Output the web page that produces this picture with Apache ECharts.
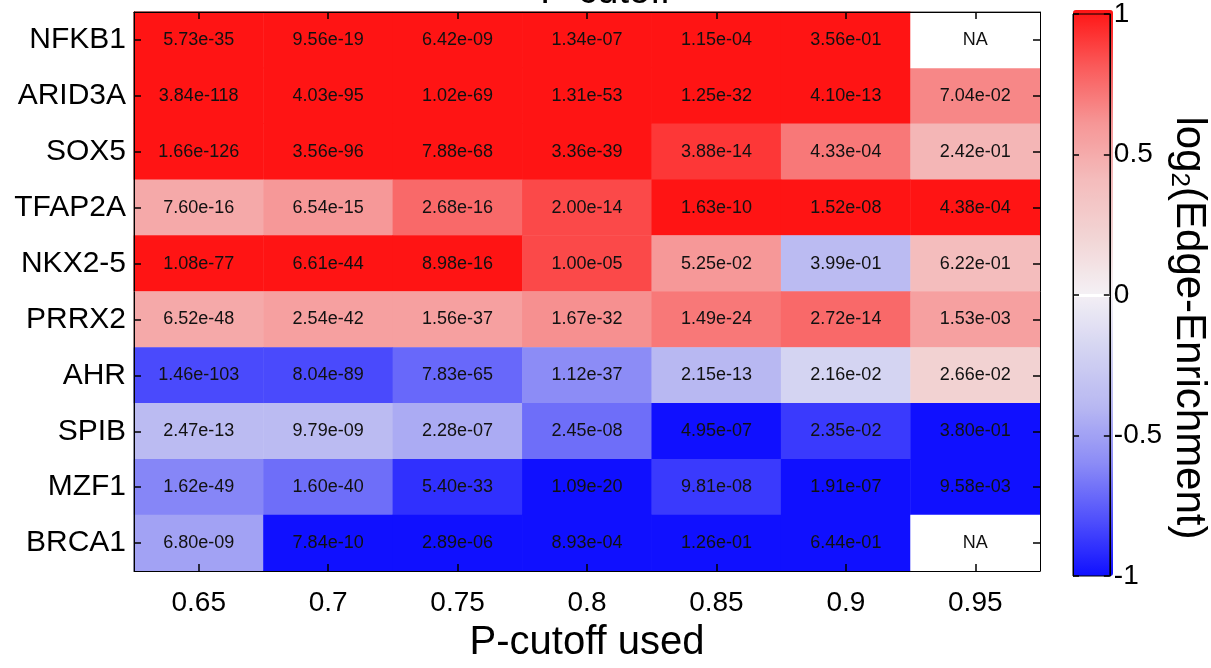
<!DOCTYPE html>
<html>
<head>
<meta charset="utf-8">
<script src="https://cdn.jsdelivr.net/npm/echarts@6/dist/echarts.min.js"></script>
<style>
html,body{margin:0;padding:0;background:#fff;}
#chart{width:1211px;height:668px;}
</style>
</head>
<body>
<div id="chart"></div>
<script>
const cutoffs = ['0.65','0.7','0.75','0.8','0.85','0.9','0.95'];
const factors = ['NFKB1','ARID3A','SOX5','TFAP2A','NKX2-5','PRRX2','AHR','SPIB','MZF1','BRCA1'];
const colorbarTicks = [-1, -0.5, 0, 0.5, 1];

// p-value text shown in each cell (row = factor, column = cutoff)
const pLabels = [
  ['5.73e-35','9.56e-19','6.42e-09','1.34e-07','1.15e-04','3.56e-01','NA'],
  ['3.84e-118','4.03e-95','1.02e-69','1.31e-53','1.25e-32','4.10e-13','7.04e-02'],
  ['1.66e-126','3.56e-96','7.88e-68','3.36e-39','3.88e-14','4.33e-04','2.42e-01'],
  ['7.60e-16','6.54e-15','2.68e-16','2.00e-14','1.63e-10','1.52e-08','4.38e-04'],
  ['1.08e-77','6.61e-44','8.98e-16','1.00e-05','5.25e-02','3.99e-01','6.22e-01'],
  ['6.52e-48','2.54e-42','1.56e-37','1.67e-32','1.49e-24','2.72e-14','1.53e-03'],
  ['1.46e-103','8.04e-89','7.83e-65','1.12e-37','2.15e-13','2.16e-02','2.66e-02'],
  ['2.47e-13','9.79e-09','2.28e-07','2.45e-08','4.95e-07','2.35e-02','3.80e-01'],
  ['1.62e-49','1.60e-40','5.40e-33','1.09e-20','9.81e-08','1.91e-07','9.58e-03'],
  ['6.80e-09','7.84e-10','2.89e-06','8.93e-04','1.26e-01','6.44e-01','NA']
];

// log2(Edge-Enrichment) (null = NA)
const enrichment = [
  [1, 1, 1, 1, 1, 1, null],
  [1, 1, 1, 1, 1, 1, 0.65],
  [1, 1, 1, 1, 0.9, 0.7, 0.43],
  [0.5, 0.59, 0.75, 0.85, 1, 1, 1],
  [1, 1, 1, 0.85, 0.59, -0.38, 0.39],
  [0.5, 0.55, 0.55, 0.62, 0.7, 0.75, 0.55],
  [-0.82, -0.82, -0.72, -0.6, -0.4, -0.2, 0.22],
  [-0.38, -0.38, -0.46, -0.7, -1, -0.87, -1],
  [-0.62, -0.7, -0.9, -1, -0.87, -1, -1],
  [-0.5, -1, -1, -1, -1, -1, null]
];

const cellData = [];
const naData = [];
for (let i = 0; i < factors.length; i++) {
  for (let j = 0; j < cutoffs.length; j++) {
    const v = enrichment[i][j];
    if (v === null) naData.push([j, i, 0, 'NA']);
    else cellData.push([j, i, v, pLabels[i][j]]);
  }
}

const FONT = "'Liberation Sans', Arial, Helvetica, sans-serif";
function inTick() {
  return {show: true, inside: true, length: 7, interval: 0, alignWithLabel: true, lineStyle: {color: '#000', width: 1.5}};
}
function blackLine() {
  return {show: true, onZero: false, lineStyle: {color: '#000', width: 1}};
}

const chart = echarts.init(document.getElementById('chart'), null, {renderer: 'canvas'});
chart.setOption({
  animation: false,
  backgroundColor: '#fff',
  title: {
    text: 'P-cutoff', left: 'center', top: -31,
    textStyle: {fontFamily: FONT, fontSize: 38, fontWeight: 'normal', color: '#000'}
  },
  grid: [
    {left: 134, right: 171, top: 12, bottom: 95, show: true, backgroundColor: '#fff', borderColor: '#000', borderWidth: 1},
    {left: 1073, width: 40, top: 10, height: 566, show: true, borderColor: '#000', borderWidth: 1, backgroundColor: 'transparent', z: 20}
  ],
  xAxis: [
    {
      type: 'category', data: cutoffs, gridIndex: 0, position: 'bottom', zlevel: 1, z: 10,
      axisLine: blackLine(), axisTick: inTick(), splitLine: {show: false},
      axisLabel: {fontFamily: FONT, fontSize: 28, color: '#000', margin: 18, interval: 0},
      name: 'P-cutoff used', nameLocation: 'middle', nameGap: 52,
      nameTextStyle: {fontFamily: FONT, fontSize: 40, color: '#000'}
    },
    {
      type: 'category', data: cutoffs, gridIndex: 0, position: 'top', zlevel: 1, z: 10,
      axisLine: blackLine(), axisTick: inTick(), axisLabel: {show: false, interval: 0}, splitLine: {show: false}
    },
    {type: 'value', gridIndex: 1, min: 0, max: 1, show: false}
  ],
  yAxis: [
    {
      type: 'category', data: factors, inverse: true, gridIndex: 0, position: 'left', zlevel: 1, z: 10,
      axisLine: blackLine(), axisTick: inTick(), splitLine: {show: false},
      axisLabel: {fontFamily: FONT, fontSize: 30, color: '#000', margin: 8, interval: 0}
    },
    {
      type: 'category', data: factors, inverse: true, gridIndex: 0, position: 'right', zlevel: 1, z: 10,
      axisLine: blackLine(), axisTick: inTick(), axisLabel: {show: false, interval: 0}, splitLine: {show: false}
    },
    {
      type: 'value', gridIndex: 1, min: colorbarTicks[0], max: colorbarTicks[colorbarTicks.length - 1], interval: 0.5,
      position: 'right', zlevel: 1, z: 10,
      axisLine: blackLine(),
      axisTick: {show: true, inside: true, length: 6, lineStyle: {color: '#000', width: 1.5}},
      axisLabel: {fontFamily: FONT, fontSize: 28, color: '#000', margin: 4},
      splitLine: {show: true, lineStyle: {color: ['rgba(0,0,0,0)', 'rgba(0,0,0,0)', '#ffffff', 'rgba(0,0,0,0)', 'rgba(0,0,0,0)'], width: 3}},
      name: '{a|log}{s|2}{a|(Edge-Enrichment)}', nameLocation: 'middle', nameRotate: -90, nameGap: 36,
      nameTextStyle: {
        fontFamily: FONT, fontSize: 42, color: '#000', padding: [0, 0, 0, 66],
        rich: {
          a: {fontFamily: FONT, fontSize: 42, color: '#000'},
          s: {fontFamily: FONT, fontSize: 26, color: '#000', verticalAlign: 'bottom', padding: [20, 0, 0, 0]}
        }
      }
    },
    {
      type: 'value', gridIndex: 1, min: -1, max: 1, interval: 0.5, position: 'left', zlevel: 1, z: 10,
      axisLine: blackLine(),
      axisTick: {show: true, inside: true, length: 6, lineStyle: {color: '#000', width: 1.5}},
      axisLabel: {show: false}, splitLine: {show: false}
    }
  ],
  visualMap: {
    type: 'continuous', min: -1, max: 1, dimension: 2, seriesIndex: 0,
    calculable: false, realtime: false, orient: 'vertical',
    left: 1073, top: 10, itemWidth: 40, itemHeight: 566, padding: 0,
    text: null, showLabel: false, hoverLink: false,
    inRange: {
      color: ['#1010ff', '#5050fc', '#8c8cf6', '#b8b8f2', '#d4d4f2', '#f4f0f4',
              '#f2d4d4', '#f4bcbc', '#f69696', '#fa5a5a', '#ff1414']
    },
    z: 4
  },
  series: [
    {
      type: 'heatmap', xAxisIndex: 0, yAxisIndex: 0, data: cellData,
      encode: {x: 0, y: 1, value: 2}, itemStyle: {borderWidth: 0},
      label: {show: true, formatter: p => p.data[3], fontFamily: FONT, fontSize: 18, color: '#111'},
      emphasis: {disabled: true}
    },
    {
      type: 'heatmap', xAxisIndex: 0, yAxisIndex: 0, data: naData,
      encode: {x: 0, y: 1}, itemStyle: {color: '#ffffff', borderWidth: 0},
      label: {show: true, formatter: p => p.data[3], fontFamily: FONT, fontSize: 18, color: '#111'},
      emphasis: {disabled: true}
    }
  ]
});
</script>
</body>
</html>
